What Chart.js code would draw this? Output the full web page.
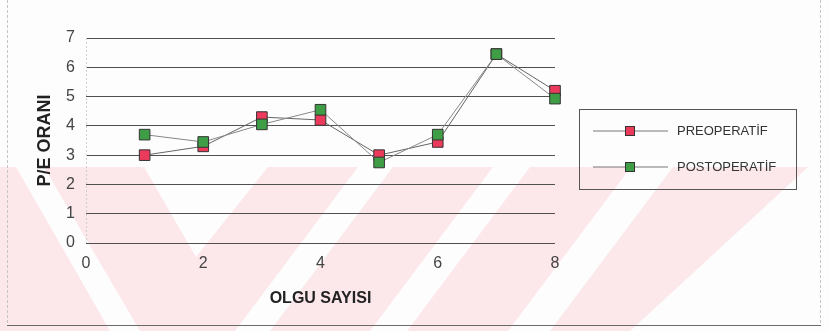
<!DOCTYPE html>
<html>
<head>
<meta charset="utf-8">
<script src="https://cdn.jsdelivr.net/npm/chart.js@4.4.1/dist/chart.umd.min.js"></script>
<style>
  html, body { margin: 0; padding: 0; background: #fdfdfd; }
  #wrap { width: 829px; height: 331px; }
</style>
</head>
<body>
<div id="wrap"><canvas id="c" width="829" height="331"></canvas></div>
<script>
// P/E ratio per case, before and after the operation
const caseNumbers   = [1, 2, 3, 4, 5, 6, 7, 8];
const preoperative  = [3.0, 3.3, 4.3, 4.2, 3.0, 3.45, 6.45, 5.2];
const postoperative = [3.7, 3.45, 4.05, 4.55, 2.75, 3.7, 6.45, 4.93];
const seriesNames   = ['PREOPERATİF', 'POSTOPERATİF'];
const xTickValues   = [0, 2, 4, 6, 8];
const yTickValues   = [0, 1, 2, 3, 4, 5, 6, 7];
const xTitle = 'OLGU SAYISI';
const yTitle = 'P/E ORANI';

const FONT = "'Liberation Sans', Arial, Helvetica, sans-serif";
const PRE_FILL = '#ec3a5c';
const POST_FILL = '#3f9d46';
const PAPER = '#fdfdfd';

const toPoints = vals => caseNumbers.map((n, i) => ({ x: n, y: vals[i] }));

// light pink diagonal band printed across the lower part of the page
const bandPlugin = {
  id: 'band',
  beforeDraw(chart) {
    const ctx = chart.ctx;
    const poly = (pts, fill) => {
      ctx.beginPath();
      ctx.moveTo(pts[0][0], pts[0][1]);
      for (let i = 1; i < pts.length; i++) ctx.lineTo(pts[i][0], pts[i][1]);
      ctx.closePath();
      ctx.fillStyle = fill;
      ctx.fill();
    };
    ctx.save();
    ctx.fillStyle = PAPER;
    ctx.fillRect(0, 0, chart.width, chart.height);
    poly([[0, 167], [808, 167], [630, 331], [0, 331]], '#fce7eb');
    poly([[16, 167], [44, 167], [140, 331], [110, 331]], PAPER);
    poly([[144, 167], [268, 167], [196, 257]], PAPER);
    poly([[358, 167], [393, 167], [270, 331], [235, 331]], PAPER);
    poly([[493, 167], [530, 167], [407, 331], [370, 331]], PAPER);
    poly([[631, 167], [673, 167], [550, 331], [508, 331]], PAPER);
    ctx.restore();
  }
};

// outer frame, dotted value axis and the boxed legend on the right
const framePlugin = {
  id: 'frame',
  beforeDatasetsDraw(chart) {
    const ctx = chart.ctx;
    const { left, top, bottom } = chart.chartArea;
    ctx.save();
    ctx.strokeStyle = '#cfcfcf';
    ctx.lineWidth = 1;
    ctx.setLineDash([2, 2]);
    ctx.beginPath();
    ctx.moveTo(left + 0.5, top); ctx.lineTo(left + 0.5, bottom);
    ctx.stroke();
    ctx.restore();
  },
  afterDraw(chart) {
    const ctx = chart.ctx;
    ctx.save();
    ctx.strokeStyle = '#c4c4c4';
    ctx.lineWidth = 1;
    ctx.setLineDash([3, 2]);
    ctx.beginPath();
    ctx.moveTo(7.5, 0); ctx.lineTo(7.5, 326);
    ctx.moveTo(820.5, 0); ctx.lineTo(820.5, 326);
    ctx.stroke();
    ctx.setLineDash([]);
    ctx.strokeStyle = '#6a6a6a';
    ctx.beginPath();
    ctx.moveTo(7, 325.5); ctx.lineTo(821, 325.5);
    ctx.stroke();

    // legend
    const box = { x: 579.5, y: 109.5, w: 217, h: 80 };
    ctx.strokeStyle = '#555';
    ctx.strokeRect(box.x, box.y, box.w, box.h);
    const rows = [130.5, 166.5];
    chart.data.datasets.forEach((ds, i) => {
      const y = rows[i];
      ctx.strokeStyle = '#777';
      ctx.lineWidth = 1;
      ctx.beginPath();
      ctx.moveTo(593, y + 0.5); ctx.lineTo(668, y + 0.5);
      ctx.stroke();
      ctx.fillStyle = ds.pointBackgroundColor;
      ctx.fillRect(625, y - 4.5, 10, 10);
      ctx.strokeStyle = '#333';
      ctx.strokeRect(625.5, y - 4, 9, 9);
      ctx.fillStyle = '#333';
      ctx.font = '13px ' + FONT;
      ctx.textBaseline = 'middle';
      ctx.textAlign = 'left';
      ctx.fillText(ds.label, 677, y + 1);
    });
    ctx.restore();
  }
};

new Chart(document.getElementById('c'), {
  type: 'line',
  data: {
    datasets: [
      {
        label: seriesNames[0],
        data: toPoints(preoperative),
        borderColor: '#666',
        borderWidth: 1,
        pointStyle: 'rect',
        pointRadius: 7.5,
        pointBackgroundColor: PRE_FILL,
        pointBorderColor: '#333',
        pointBorderWidth: 1,
        clip: false,
        order: 1
      },
      {
        label: seriesNames[1],
        data: toPoints(postoperative),
        borderColor: '#888',
        borderWidth: 1,
        pointStyle: 'rect',
        pointRadius: 7.5,
        pointBackgroundColor: POST_FILL,
        pointBorderColor: '#333',
        pointBorderWidth: 1,
        clip: false,
        order: 0
      }
    ]
  },
  options: {
    responsive: false,
    animation: false,
    devicePixelRatio: 1,
    layout: { padding: { top: 38, right: 274, bottom: 0, left: 0 } },
    plugins: { legend: { display: false }, tooltip: { enabled: false } },
    scales: {
      x: {
        type: 'linear',
        min: 0,
        max: 8,
        afterBuildTicks(scale) { scale.ticks = xTickValues.map(v => ({ value: v })); },
        afterFit(scale) { scale.height = 88; },
        ticks: { font: { family: FONT, size: 16 }, color: '#444', padding: 11 },
        grid: { display: false, drawTicks: false },
        border: { display: false },
        title: {
          display: true, text: xTitle, color: '#222',
          font: { family: FONT, size: 16, weight: 'bold' },
          padding: { top: 0, bottom: 23 }
        }
      },
      y: {
        min: 0,
        max: 7,
        afterBuildTicks(scale) { scale.ticks = yTickValues.map(v => ({ value: v })); },
        afterFit(scale) { scale.width = 86; },
        ticks: { font: { family: FONT, size: 16 }, color: '#444', padding: 11 },
        grid: { color: '#505050', lineWidth: 1, drawTicks: false },
        border: { display: false },
        title: {
          display: true, text: yTitle, color: '#222',
          font: { family: FONT, size: 18, weight: 'bold' },
          padding: { top: 34, bottom: 0 }
        }
      }
    }
  },
  plugins: [bandPlugin, framePlugin]
});
</script>
</body>
</html>
